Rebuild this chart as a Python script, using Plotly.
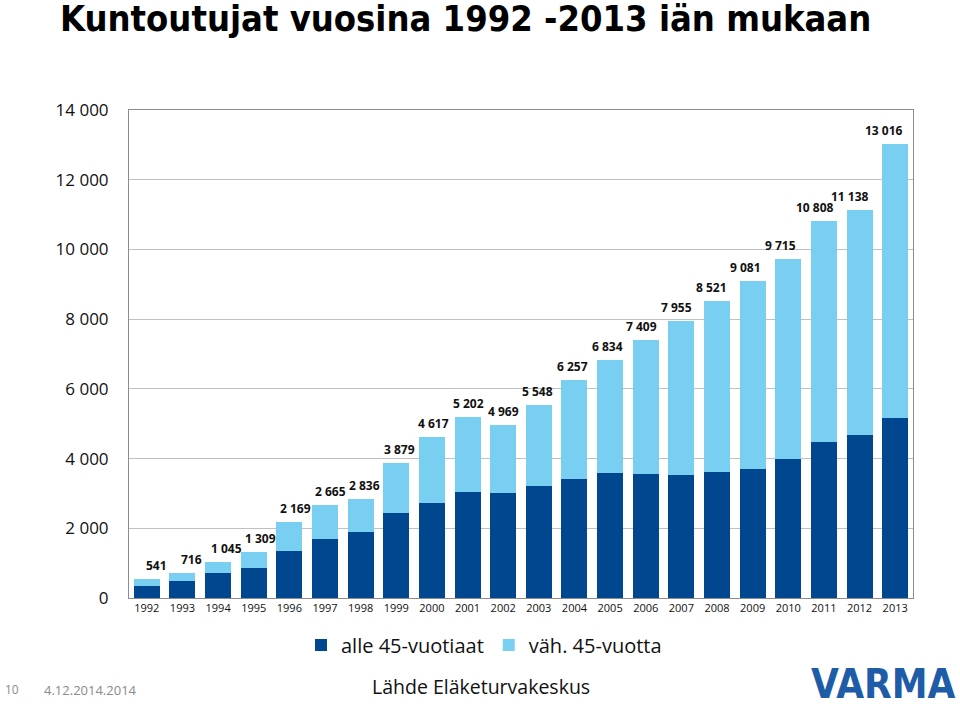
"""Kuntoutujat vuosina 1992-2013 iän mukaan - stacked bar chart."""

import plotly.graph_objects as go

COLORS = {
    "under45": "#00478f",
    "over45": "#78cff2",
    "grid": "#c0c0c0",
    "axis": "#8c8c8c",
    "logo": "#1f5ca8",
    "muted": "#8a8a8a",
}

years = [str(y) for y in range(1992, 2014)]

totals = [541, 716, 1045, 1309, 2169, 2665, 2836, 3879, 4617, 5202, 4969,
          5548, 6257, 6834, 7409, 7955, 8521, 9081, 9715, 10808, 11138, 13016]

# alle 45-vuotiaat
under45 = [350, 480, 730, 870, 1350, 1690, 1880, 2450, 2730, 3030, 3010,
           3200, 3420, 3580, 3545, 3515, 3610, 3710, 4000, 4470, 4680, 5170]

# väh. 45-vuotta = total - alle 45
over45 = [t - u for t, u in zip(totals, under45)]

y_ticks = [0, 2000, 4000, 6000, 8000, 10000, 12000, 14000]

# plot area in pixels
L, R, T, B = 129, 913, 110, 598
W, H = 960, 706


def px_x(x):
    return (x - L) / (R - L)


def px_y(y):
    return (B - y) / (B - T)


idx = list(range(len(years)))

fig = go.Figure()

fig.add_trace(
    go.Bar(
        x=idx,
        y=under45,
        name="alle 45-vuotiaat",
        marker=dict(color=COLORS["under45"], line=dict(width=0)),
        hoverinfo="skip",
    )
)
fig.add_trace(
    go.Bar(
        x=idx,
        y=over45,
        name="väh. 45-vuotta",
        marker=dict(color=COLORS["over45"], line=dict(width=0)),
        hoverinfo="skip",
    )
)

# total labels above the bars
n = len(years)
for i, tot in zip(idx, totals):
    fig.add_annotation(
        x=i,
        y=tot,
        text=f"{tot:,}".replace(",", " "),
        showarrow=False,
        yanchor="bottom",
        xshift=10 - 21 * i / (n - 1),
        yshift=3,
        font=dict(family="Open Sans", size=12, color="#111111", weight="bold"),
    )

# footer texts
fig.add_annotation(
    x=px_x(3), y=px_y(690), xref="paper", yref="paper", text="10",
    showarrow=False, xanchor="left", yanchor="middle",
    font=dict(family="Open Sans", size=12, color=COLORS["muted"]),
)
fig.add_annotation(
    x=px_x(42), y=px_y(690), xref="paper", yref="paper", text="4.12.2014.2014",
    showarrow=False, xanchor="left", yanchor="middle",
    font=dict(family="Open Sans", size=13, color=COLORS["muted"]),
)
fig.add_annotation(
    x=px_x(481), y=px_y(686), xref="paper", yref="paper",
    text="Lähde Eläketurvakeskus",
    showarrow=False, xanchor="center", yanchor="middle",
    font=dict(family="Open Sans", size=19.5, color="#111111"),
)
fig.add_annotation(
    x=px_x(958), y=px_y(684), xref="paper", yref="paper", text="VARMA",
    showarrow=False, xanchor="right", yanchor="middle",
    font=dict(family="DejaVu Sans Condensed", size=40, color=COLORS["logo"],
              weight="bold"),
)

fig.update_layout(
    width=W,
    height=H,
    autosize=False,
    barmode="stack",
    bargap=0.27,
    plot_bgcolor="white",
    paper_bgcolor="white",
    margin=dict(l=L, r=W - R, t=T, b=H - B, pad=0),
    title=dict(
        text="<b>Kuntoutujat vuosina 1992 -2013 iän mukaan</b>",
        x=60 / W,
        xanchor="left",
        y=1 - 18 / H,
        yanchor="middle",
        font=dict(family="DejaVu Sans Condensed", size=36, color="#000000"),
    ),
    legend=dict(
        orientation="h",
        x=px_x(484),
        xanchor="center",
        y=px_y(645),
        yanchor="middle",
        font=dict(family="Open Sans", size=20, color="#111111"),
        itemwidth=30,
        traceorder="normal",
    ),
    showlegend=True,
)

fig.update_xaxes(
    range=[-0.5, n - 0.5],
    tickvals=idx,
    ticktext=years,
    showgrid=False,
    showline=True,
    linecolor=COLORS["axis"],
    linewidth=1,
    mirror=True,
    zeroline=False,
    ticks="",
    tickfont=dict(family="Open Sans", size=11, color="#111111"),
)
fig.update_yaxes(
    range=[0, 14000],
    tickvals=y_ticks,
    ticktext=[f"{v:,}".replace(",", " ") for v in y_ticks],
    showgrid=True,
    gridcolor=COLORS["grid"],
    gridwidth=1,
    showline=True,
    linecolor=COLORS["axis"],
    linewidth=1,
    mirror=True,
    zeroline=False,
    ticks="",
    ticklabelstandoff=16,
    tickfont=dict(family="Open Sans", size=17, color="#111111"),
)

# page has a default 8px body margin; drop it so the figure fills the window
fig.write_html(
    "out.html",
    config={"displayModeBar": False},
    post_script="document.body.style.margin='0';",
)
